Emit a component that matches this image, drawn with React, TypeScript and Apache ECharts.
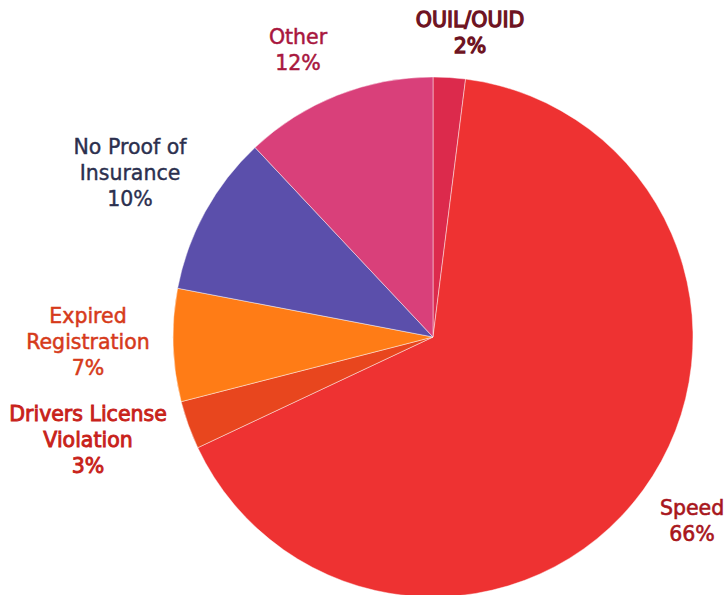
import React, { useEffect, useRef } from "react";
import * as echarts from "echarts";

const categories = ["OUIL/OUID", "Speed", "Drivers License\nViolation", "Expired\nRegistration", "No Proof of\nInsurance", "Other"];
const values = [2, 66, 3, 7, 10, 12];
const sliceColors = ["#dc2a4c", "#ee3232", "#e8461e", "#ff7c16", "#5b4fab", "#d9407a"];
const labelColors = ["#6e1322", "#a8161c", "#c8221a", "#d63a1a", "#2b2f4e", "#a8173e"];
const labelStroke = [1.3, 0.6, 0.9, 0.5, 0.4, 0.5];
const labelPos: [number, number][] = [
  [470, 33],
  [692, 521],
  [88, 440],
  [88, 342],
  [130, 173],
  [298, 50],
];

export default function App() {
  const ref = useRef<HTMLDivElement>(null);
  useEffect(() => {
    if (!ref.current) return;
    const chart = echarts.init(ref.current, null, { renderer: "svg" });
    chart.setOption({
      animation: false,
      backgroundColor: "#ffffff",
      series: [
        {
          type: "pie",
          center: [433, 337],
          radius: 260,
          startAngle: 90,
          clockwise: true,
          data: categories.map((name, i) => ({
            name,
            value: values[i],
            itemStyle: { color: sliceColors[i] },
            label: {
              color: labelColors[i],
              textBorderColor: labelColors[i],
              textBorderWidth: labelStroke[i],
            },
          })),
          itemStyle: { borderColor: "rgba(255,255,255,0.45)", borderWidth: 1 },
          label: {
            show: true,
            position: "inside",
            formatter: (p: any) => `${p.name}\n${p.value}%`,
            fontFamily: "'DejaVu Sans', sans-serif",
            fontSize: 20.5,
            lineHeight: 26,
            align: "center",
            overflow: "none",
          },
          labelLine: { show: false },
          labelLayout: (params: any) => {
            const pos = labelPos[params.dataIndex];
            return { x: pos[0], y: pos[1], align: "center", verticalAlign: "middle" };
          },
        },
      ],
    });
    return () => chart.dispose();
  }, []);
  return <div ref={ref} style={{ position: "absolute", left: 0, top: 0, width: 727, height: 595 }} />;
}
